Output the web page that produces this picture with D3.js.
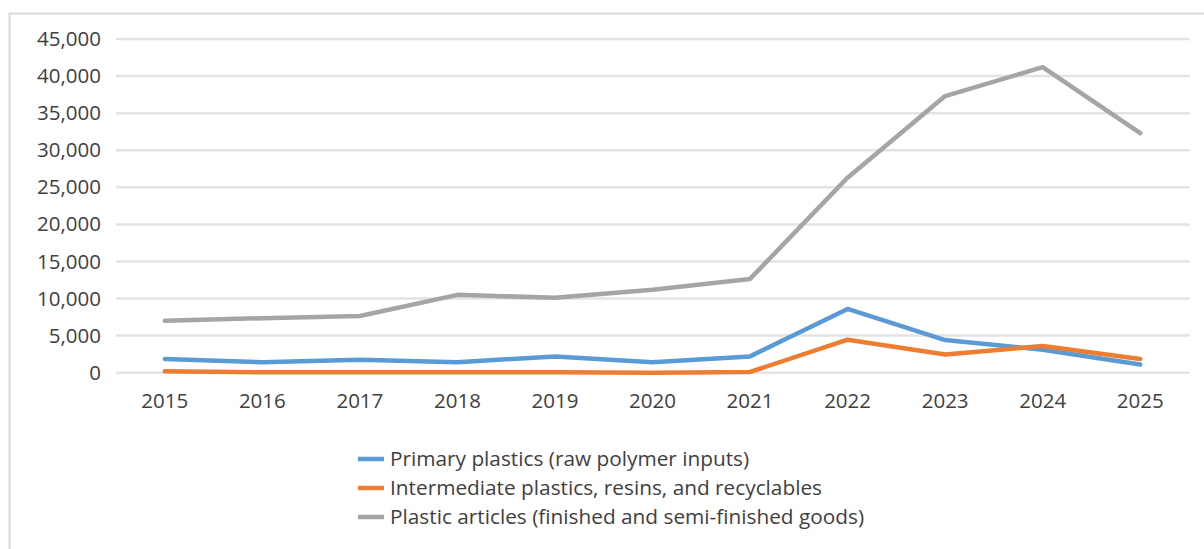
<!DOCTYPE html>
<html>
<head>
<meta charset="utf-8">
<script src="https://cdn.jsdelivr.net/npm/d3@7/dist/d3.min.js"></script>
<style>
  html, body { margin: 0; padding: 0; background: #fff; }
  svg text { font-family: "Open Sans", "Noto Sans", sans-serif; fill: #404040; }
</style>
</head>
<body>
<svg id="chart" width="1204" height="549"></svg>
<script>
// Import values by year
const years = ["2015","2016","2017","2018","2019","2020","2021","2022","2023","2024","2025"];
const primary = [1850, 1400, 1750, 1400, 2200, 1400, 2200, 8600, 4400, 3100, 1100];
const intermediate = [200, 50, 50, 50, 50, 0, 100, 4450, 2450, 3600, 1850];
const articles = [7000, 7350, 7650, 10500, 10100, 11200, 12650, 26300, 37300, 41200, 32300];
const yTicks = [0, 5000, 10000, 15000, 20000, 25000, 30000, 35000, 40000, 45000];

const seriesNames = [
  "Primary plastics (raw polymer inputs)",
  "Intermediate plastics, resins, and recyclables",
  "Plastic articles (finished and semi-finished goods)"
];
const seriesColors = ["#5B9BD5", "#ED7D31", "#A5A5A5"];
const seriesValues = [primary, intermediate, articles];

const svg = d3.select("#chart");

// chart area frame
svg.append("rect")
  .attr("x", 9.5).attr("y", 13.5)
  .attr("width", 1210).attr("height", 545)
  .attr("fill", "none").attr("stroke", "#d9d9d9").attr("stroke-width", 2);

const x = d3.scaleBand().domain(years).range([116, 1189]);
const y = d3.scaleLinear().domain([0, 45000]).range([372.7, 39]);

// horizontal gridlines
svg.append("g")
  .selectAll("line")
  .data(yTicks)
  .join("line")
  .attr("x1", 116).attr("x2", 1190)
  .attr("y1", d => y(d)).attr("y2", d => y(d))
  .attr("stroke", "#e3e3e3").attr("stroke-width", 2.5);

// y axis labels
const yAxis = d3.axisLeft(y).tickValues(yTicks).tickSize(0).tickPadding(0)
  .tickFormat(d3.format(","));
svg.append("g")
  .attr("transform", "translate(101,0)")
  .call(yAxis)
  .call(g => g.select(".domain").remove())
  .call(g => g.selectAll("text")
    .attr("font-family", null).attr("font-size", 20.5).attr("fill", null));

// x axis labels
const xAxis = d3.axisBottom(x).tickSize(0).tickPadding(0);
svg.append("g")
  .attr("transform", "translate(0,393)")
  .call(xAxis)
  .call(g => g.select(".domain").remove())
  .call(g => g.selectAll("text")
    .attr("font-family", null).attr("font-size", 20.5).attr("fill", null));

// series lines
const line = d3.line()
  .x((d, i) => x(years[i]) + x.bandwidth() / 2)
  .y(d => y(d));

svg.append("g")
  .selectAll("path")
  .data(seriesValues)
  .join("path")
  .attr("d", d => line(d))
  .attr("fill", "none")
  .attr("stroke", (d, i) => seriesColors[i])
  .attr("stroke-width", 4.5)
  .attr("stroke-linejoin", "round")
  .attr("stroke-linecap", "round");

// legend
const legend = svg.append("g").attr("transform", "translate(358,0)");
const rows = legend.selectAll("g")
  .data(seriesNames)
  .join("g")
  .attr("transform", (d, i) => `translate(0,${459 + i * 29})`);
rows.append("line")
  .attr("x1", 0).attr("x2", 26)
  .attr("stroke", (d, i) => seriesColors[i])
  .attr("stroke-width", 4.5);
rows.append("text")
  .attr("x", 32).attr("dy", "0.35em")
  .attr("font-size", 20.8)
  .text(d => d);
</script>
</body>
</html>
